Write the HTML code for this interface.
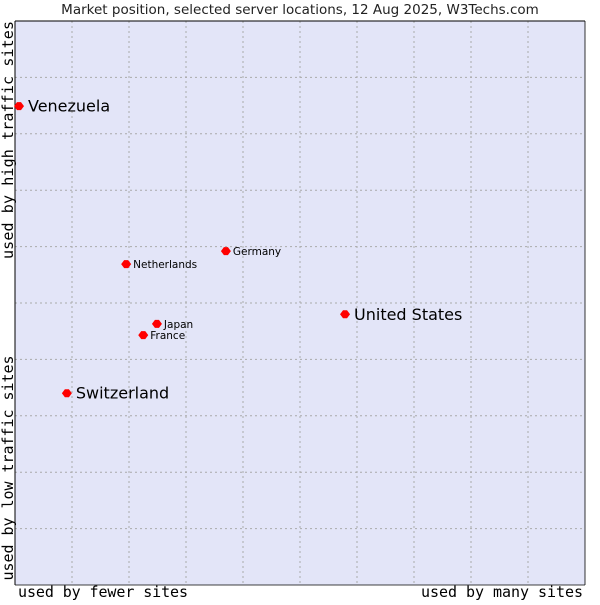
<!DOCTYPE html>
<html><head><meta charset="utf-8"><style>
body{margin:0;background:#fff;}
svg text{font-family:"DejaVu Sans","Liberation Sans",sans-serif;}
.mono{font-family:"DejaVu Sans Mono","Liberation Mono",monospace !important;}
</style></head><body>
<svg id="chart" width="600" height="600" xmlns="http://www.w3.org/2000/svg">
<text x="300" y="14" text-anchor="middle" font-size="13.5" fill="#222">Market position, selected server locations, 12 Aug 2025, W3Techs.com</text>
<rect x="15" y="21" width="570" height="564" fill="#e3e5f8"/>
<g id="grid"></g>
<line x1="15" y1="21" x2="585" y2="21" stroke="#000"/>
<line x1="15" y1="21" x2="15" y2="585" stroke="#000"/>
<line x1="585" y1="21" x2="585" y2="585" stroke="#000" stroke-width="0.8"/>
<line x1="15" y1="585" x2="585" y2="585" stroke="#000" stroke-width="0.8"/>
<g id="points"></g>
<text class="mono" x="18" y="597" font-size="15" textLength="170" fill="#000">used by fewer sites</text>
<text class="mono" x="583" y="597" font-size="15" text-anchor="end" textLength="162" fill="#000">used by many sites</text>
<text class="mono" transform="translate(13,140) rotate(-90)" font-size="15" text-anchor="middle" textLength="238" fill="#000">used by high traffic sites</text>
<text class="mono" transform="translate(13,468) rotate(-90)" font-size="15" text-anchor="middle" textLength="225" fill="#000">used by low traffic sites</text>
</svg>
<script>
const names = ["Venezuela","Switzerland","United States","Germany","Netherlands","Japan","France"];
const xVals = [0.7, 9.1, 57.9, 37.0, 19.5, 24.9, 22.5];
const yVals = [84.9, 34.0, 48.0, 59.2, 56.9, 46.3, 44.3];
const big = [true, true, true, false, false, false, false];
const NS="http://www.w3.org/2000/svg";
const L=15,T=21,W=570,H=564;
function sx(v){return L+v/100*W;}
function sy(v){return T+H-v/100*H;}
const grid=document.getElementById('grid');
for(let i=1;i<10;i++){
  const v=document.createElementNS(NS,'line');
  v.setAttribute('x1',sx(i*10));v.setAttribute('x2',sx(i*10));v.setAttribute('y1',T);v.setAttribute('y2',T+H);
  v.setAttribute('stroke','#aaaaaa');v.setAttribute('stroke-dasharray','2,3');
  
  
  grid.appendChild(v);
  const h=document.createElementNS(NS,'line');
  h.setAttribute('y1',sy(i*10));h.setAttribute('y2',sy(i*10));h.setAttribute('x1',L);h.setAttribute('x2',L+W);
  h.setAttribute('stroke','#aaaaaa');h.setAttribute('stroke-dasharray','2,3');
  
  
  grid.appendChild(h);
}
const pts=document.getElementById('points');
names.forEach((n,i)=>{
  const x=sx(xVals[i]),y=sy(yVals[i]);
  const d=document.createElementNS(NS,'path');
  d.setAttribute('d',`M${x-5},${y} L${x-2},${y-4} L${x+2},${y-4} L${x+5},${y} L${x+2},${y+4} L${x-2},${y+4} Z`);
  d.setAttribute('fill','#f00');
  
  
  pts.appendChild(d);
  const t=document.createElementNS(NS,'text');
  t.setAttribute('x',x+(big[i]?9:7));t.setAttribute('y',y+(big[i]?5.5:4));
  t.setAttribute('font-size',big[i]?16:10.5);t.setAttribute('fill','#000');
  t.textContent=n;
  
  
  pts.appendChild(t);
});
</script>
</body></html>
